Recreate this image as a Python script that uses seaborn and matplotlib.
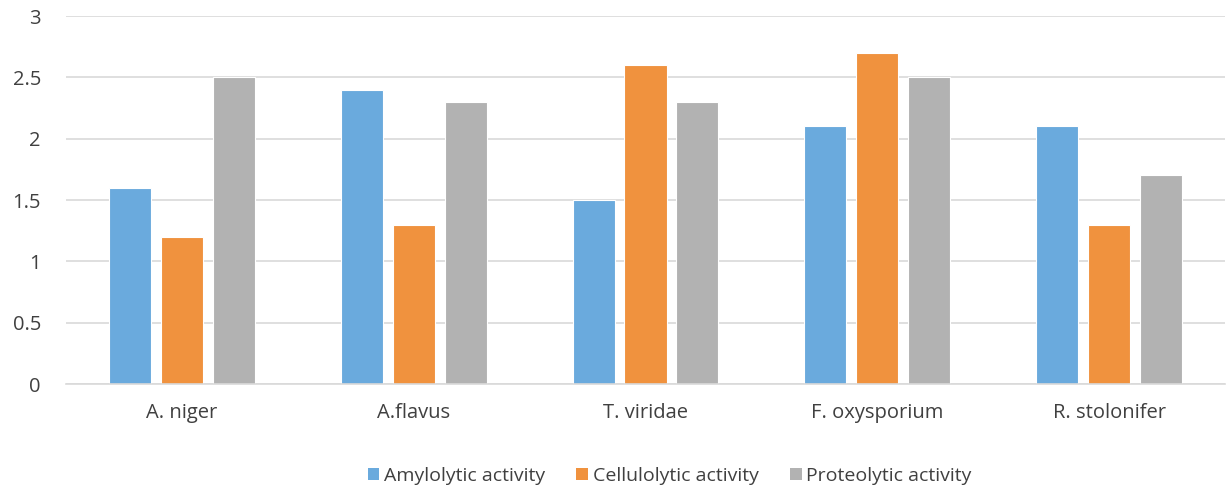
import matplotlib
matplotlib.use("Agg")
import matplotlib.pyplot as plt
import seaborn as sns
import pandas as pd
from matplotlib.patches import Patch

species = ["A. niger", "A.flavus", "T. viridae", "F. oxysporium", "R. stolonifer"]
amylolytic = [1.6, 2.4, 1.5, 2.1, 2.1]
cellulolytic = [1.2, 1.3, 2.6, 2.7, 1.3]
proteolytic = [2.5, 2.3, 2.3, 2.5, 1.7]
series_names = ["Amylolytic activity", "Cellulolytic activity", "Proteolytic activity"]
colors = ["#6aaadd", "#f0923e", "#b2b2b2"]
y_ticks = [0, 0.5, 1, 1.5, 2, 2.5, 3]

df = pd.DataFrame({
    "species": species * 3,
    "activity": amylolytic + cellulolytic + proteolytic,
    "series": [s for s in series_names for _ in species],
})

sns.set_theme(style="white")
plt.rcParams["font.family"] = ["Open Sans", "DejaVu Sans"]

fig = plt.figure(figsize=(12.31, 4.88), dpi=100)
ax = fig.add_axes([66 / 1231, 1 - 384 / 488, 1159 / 1231, 368 / 488])

sns.barplot(data=df, x="species", y="activity", hue="series", order=species,
            hue_order=series_names, palette=colors, width=0.672, gap=0.19,
            saturation=1, edgecolor="white", linewidth=0.8, ax=ax, legend=False)

ax.set_ylim(0, 3)
ax.set_xlim(-0.5, 4.5)
ax.set_yticks(y_ticks)
ax.set_yticklabels([f"{t:g}" for t in y_ticks])
ax.yaxis.grid(True, color="#d9d9d9", linewidth=1.2)
ax.set_axisbelow(True)
for side in ["top", "right", "left"]:
    ax.spines[side].set_visible(False)
ax.spines["bottom"].set_color("#d9d9d9")
ax.spines["bottom"].set_linewidth(1.2)
ax.tick_params(axis="both", length=0, labelsize=14.5, colors="#404040")
ax.tick_params(axis="x", pad=14)
ax.tick_params(axis="y", pad=18)
ax.set_xlabel("")
ax.set_ylabel("")

handles = [Patch(facecolor=c, edgecolor="none") for c in colors]
fig.legend(handles, series_names, loc="center", bbox_to_anchor=(0.544, 1 - 476 / 488),
           ncol=3, frameon=False, fontsize=14, handlelength=0.6, handleheight=0.6,
           handletextpad=0.25, columnspacing=1.6, labelcolor="#404040")

fig.savefig("out.png", dpi=100)
